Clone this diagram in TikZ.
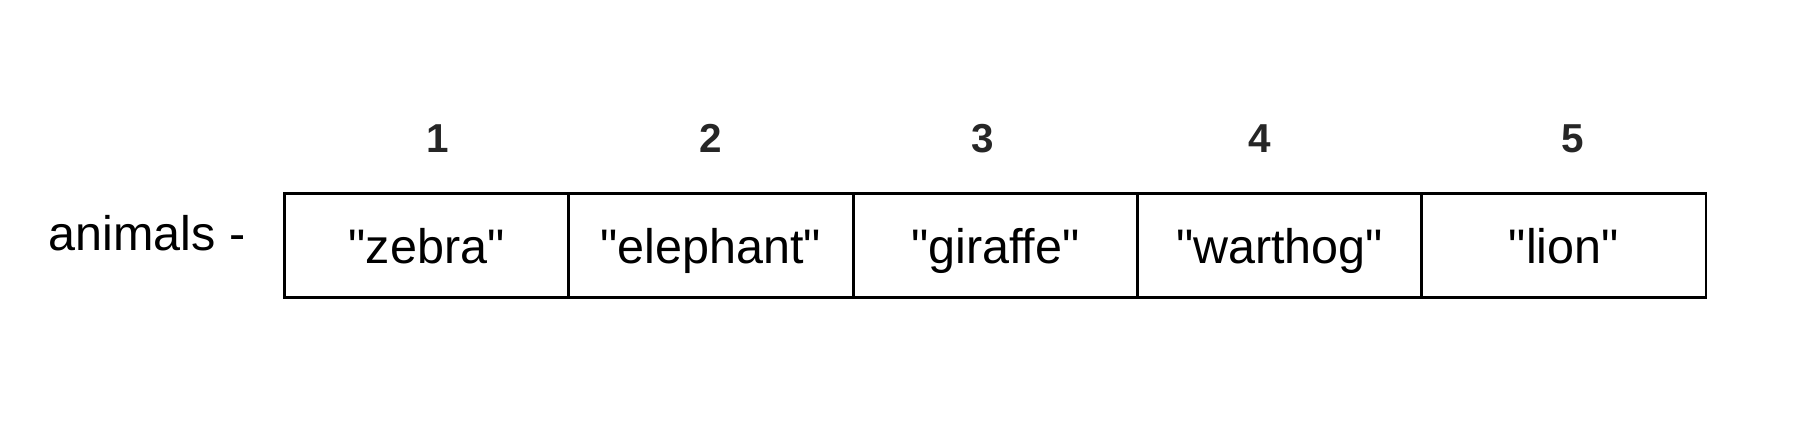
\documentclass[tikz,border=0pt]{standalone}
\usepackage{fontspec}
\setmainfont{Liberation Sans}[Ligatures=TeXOff]
\tikzset{
  cell/.style={draw=black, line width=0.8pt, minimum width=2.843cm, minimum height=1.04cm,
    inner sep=0pt, text height=0.47cm, text depth=0.11cm, font=\fontsize{13.8}{16}\selectfont},
  index/.style={anchor=base, inner sep=0pt, text=black!85, font=\bfseries\fontsize{11.5}{14}\selectfont},
  arrname/.style={anchor=base east, inner sep=0pt, font=\fontsize{13.8}{16}\selectfont}
}
\begin{document}
\begin{tikzpicture}
    \useasboundingbox (0,0) rectangle (18.08,4.22);
    %% array cells
    \node [cell] (cell1) at (4.2665,1.765)  {"zebra"};
    \node [cell] (cell2) at (7.1095,1.765)  {"elephant"};
    \node [cell] (cell3) at (9.9525,1.765)  {"giraffe"};
    \node [cell] (cell4) at (12.7955,1.765) {"warthog"};
    \node [cell] (cell5) at (15.6385,1.765) {"lion"};
    %% indices
    \node [index] (idx1) at (4.38,2.69)  {1};
    \node [index] (idx2) at (7.11,2.69)  {2};
    \node [index] (idx3) at (9.83,2.69)  {3};
    \node [index] (idx4) at (12.60,2.69) {4};
    \node [index] (idx5) at (15.73,2.69) {5};
    %% array name
    \node [arrname] (animals) at (2.46,1.71) {animals -};
\end{tikzpicture}
\end{document}
